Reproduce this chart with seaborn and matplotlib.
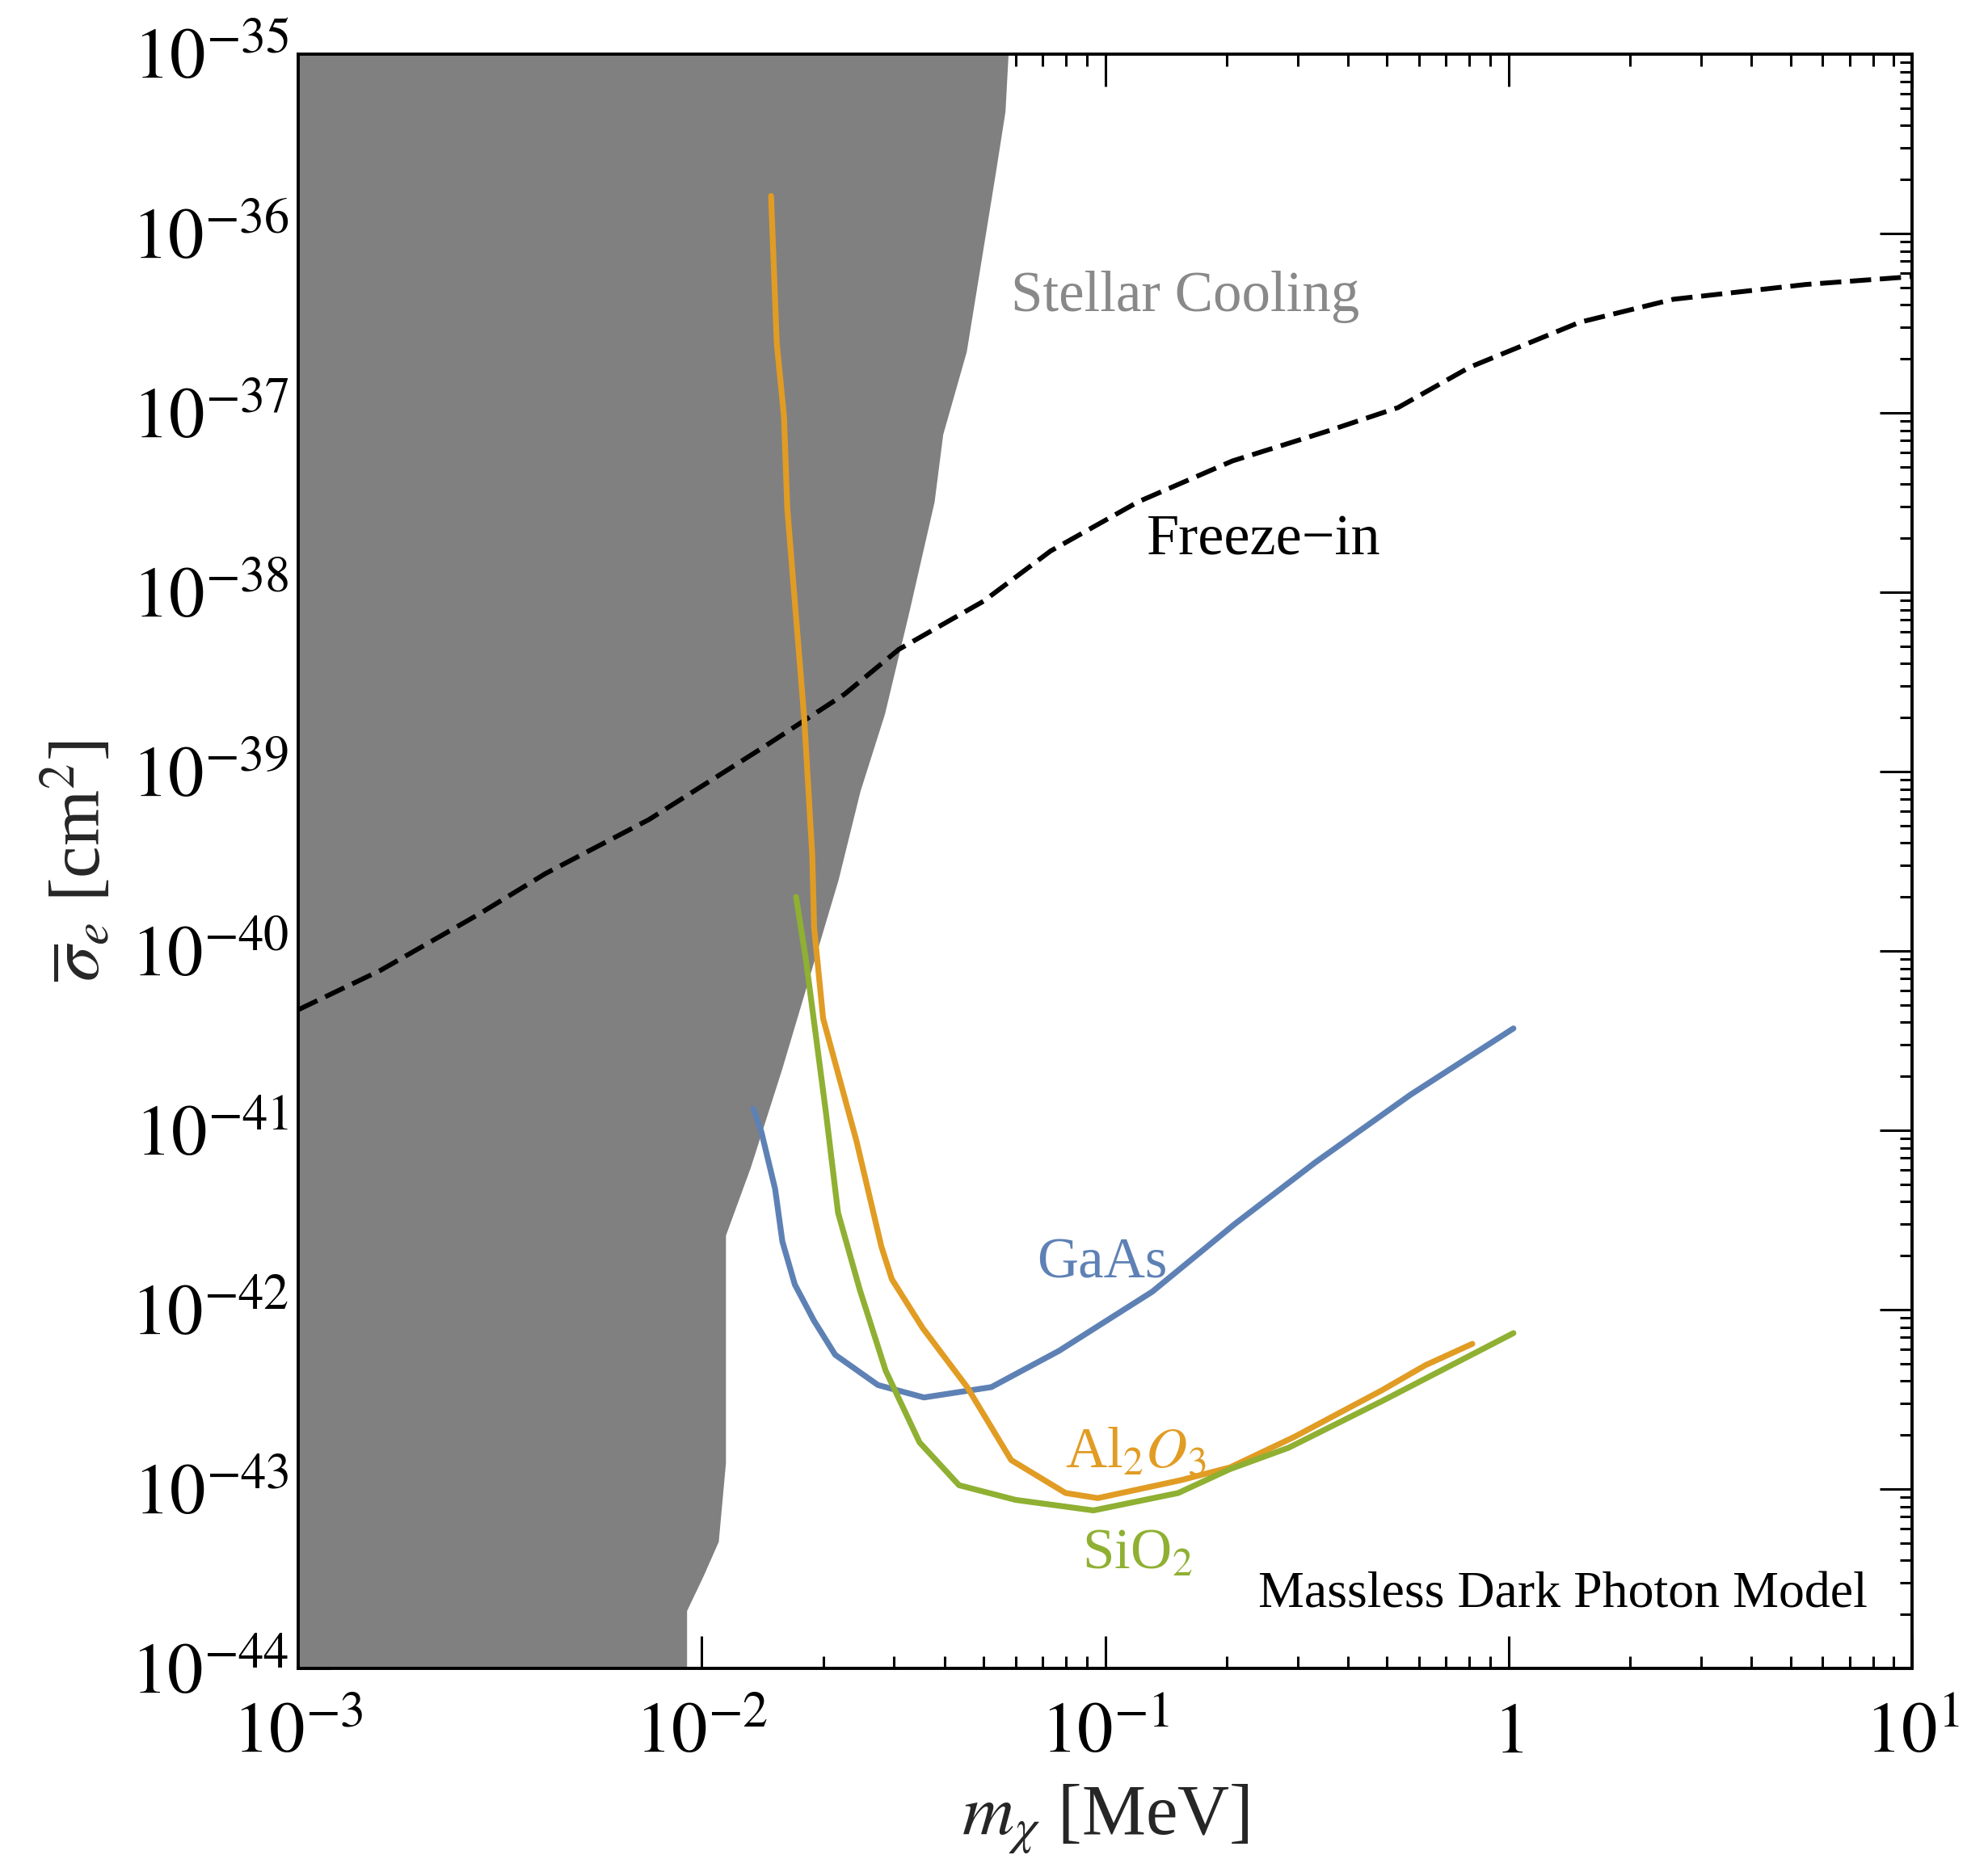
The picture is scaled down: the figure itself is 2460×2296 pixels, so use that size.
import numpy as np
import pandas as pd
import matplotlib
matplotlib.use("Agg")
import matplotlib.pyplot as plt
import matplotlib.ticker as mticker
import seaborn as sns

# --- data (MeV, cm^2) ---
cool_m = [0.0575, 0.0565, 0.0535, 0.0453, 0.0396, 0.0377, 0.0327, 0.0284, 0.0247,
          0.0218, 0.0158, 0.0132, 0.01146, 0.01146, 0.0110, 0.0101, 0.00918, 0.00918]
cool_sigma = [1e-35, 4.8e-36, 2.2e-36, 2.2e-37, 7.6e-38, 3.2e-38, 7.9e-39, 2.1e-39, 7.8e-40,
              2.5e-40, 2.2e-41, 6.2e-42, 2.6e-42, 1.4e-43, 5.1e-44, 3.3e-44, 2.1e-44, 1e-44]

freeze_m = [0.001, 0.0016, 0.0028, 0.0041, 0.0074, 0.0141, 0.0226, 0.0308, 0.0499, 0.0733,
            0.121, 0.207, 0.355, 0.532, 0.802, 1.5, 2.56, 5.46, 10]
freeze_sigma = [4.7e-41, 7.8e-41, 1.6e-40, 2.7e-40, 5.4e-40, 1.35e-39, 2.7e-39, 4.8e-39, 8.9e-39,
                1.7e-38, 3.2e-38, 5.4e-38, 7.9e-38, 1.07e-37, 1.8e-37, 3.2e-37, 4.3e-37, 5.2e-37,
                5.75e-37]

gaas_m = [0.01343, 0.01406, 0.01521, 0.01585, 0.01702, 0.01897, 0.02143, 0.02735, 0.03556,
          0.05224, 0.07691, 0.1309, 0.2094, 0.3311, 0.5715, 1.028]
gaas_sigma = [1.32e-41, 9.8e-42, 4.7e-42, 2.4e-42, 1.38e-42, 8.7e-43, 5.6e-43, 3.8e-43,
              3.24e-43, 3.7e-43, 5.9e-43, 1.26e-42, 3.0e-42, 6.6e-42, 1.58e-41, 3.7e-41]

al2o3_m = [0.01486, 0.01535, 0.0160, 0.0163, 0.01795, 0.0188, 0.0190, 0.0200, 0.0242, 0.0279,
           0.0296, 0.0353, 0.0455, 0.0585, 0.0798, 0.0959, 0.154, 0.204, 0.294, 0.485, 0.622,
           0.813]
al2o3_sigma = [1.62e-36, 2.45e-37, 9.5e-38, 2.95e-38, 2.0e-39, 3.4e-40, 1.35e-40, 4.2e-41,
               8.7e-42, 2.24e-42, 1.48e-42, 7.9e-43, 3.7e-43, 1.45e-43, 9.5e-44, 8.9e-44,
               1.12e-43, 1.32e-43, 1.95e-43, 3.55e-43, 4.9e-43, 6.45e-43]

sio2_m = [0.01714, 0.01811, 0.02032, 0.02178, 0.02466, 0.02858, 0.03467, 0.04345, 0.05998,
          0.09354, 0.1517, 0.2037, 0.2851, 0.4853, 1.028]
sio2_sigma = [2.0e-40, 9.1e-41, 1.26e-41, 3.47e-42, 1.29e-42, 4.57e-43, 1.82e-43, 1.05e-43,
              8.7e-44, 7.6e-44, 9.5e-44, 1.29e-43, 1.70e-43, 3.09e-43, 7.4e-43]

x_ticks = [1e-3, 1e-2, 1e-1, 1, 10]
x_tick_labels = [r"$10^{-3}$", r"$10^{-2}$", r"$10^{-1}$", r"$1$", r"$10^{1}$"]
y_ticks = [10.0 ** e for e in range(-44, -34)]
y_tick_labels = [r"$10^{%d}$" % e for e in range(-44, -34)]

materials = ["GaAs", "Al2O3", "SiO2"]
colors = {"GaAs": "#5E81B5", "Al2O3": "#E19C24", "SiO2": "#8FB032"}

# --- style ---
sns.set_style("ticks")
plt.rcParams["font.family"] = ["Liberation Serif", "DejaVu Serif"]
plt.rcParams["mathtext.fontset"] = "stix"

fig = plt.figure(figsize=(24.6, 22.96), dpi=100)
ax = fig.add_axes([0.15, 0.1006, 0.8118, 0.8702])

# stellar cooling region
ax.fill_betweenx(cool_sigma, 1e-3, cool_m, color="#808080", lw=0, zorder=1)

# freeze-in line
sns.lineplot(x=freeze_m, y=freeze_sigma, ax=ax, color="black", lw=4.3,
             estimator=None, sort=False, zorder=3)
ax.lines[-1].set_dashes((4.4, 1.8))

# material reaches
curves = pd.concat([
    pd.DataFrame({"m": gaas_m, "sigma": gaas_sigma, "material": "GaAs"}),
    pd.DataFrame({"m": al2o3_m, "sigma": al2o3_sigma, "material": "Al2O3"}),
    pd.DataFrame({"m": sio2_m, "sigma": sio2_sigma, "material": "SiO2"}),
])
sns.lineplot(data=curves, x="m", y="sigma", hue="material", hue_order=materials,
             palette=colors, estimator=None, sort=False, lw=5.2, legend=False, ax=ax,
             zorder=4)

ax.set_xscale("log")
ax.set_yscale("log")
ax.set_xlim(1e-3, 10)
ax.set_ylim(1e-44, 1e-35)

ax.set_xticks(x_ticks)
ax.set_xticklabels(x_tick_labels)
ax.set_yticks(y_ticks)
ax.set_yticklabels(y_tick_labels)
ax.xaxis.set_minor_locator(mticker.LogLocator(base=10, subs=np.arange(2, 10), numticks=100))
ax.yaxis.set_minor_locator(mticker.LogLocator(base=10, subs=np.arange(2, 10), numticks=100))
ax.xaxis.set_minor_formatter(mticker.NullFormatter())
ax.yaxis.set_minor_formatter(mticker.NullFormatter())

ax.tick_params(which="both", direction="in", top=True, right=True, color="black",
               labelsize=64, labelcolor="black")
ax.tick_params(which="major", length=29, width=2.2)
ax.tick_params(which="minor", length=11, width=2.2)
ax.tick_params(axis="x", which="major", pad=30)
ax.tick_params(axis="y", which="major", pad=8)
for sp in ax.spines.values():
    sp.set_linewidth(2.8)
    sp.set_color("black")
    sp.set_visible(True)

ax.set_xlabel(r"$m_\chi$ [MeV]", fontsize=64, labelpad=14)
ax.set_ylabel(r"$\overline{\sigma}_e$ [cm$^2$]", fontsize=64, labelpad=14)

# labels
ax.text(0.0583, 3.7e-37, "Stellar Cooling", color="#898989", fontsize=51, va="baseline")
ax.text(0.127, 1.62e-38, "Freeze\u2212in", color="black", fontsize=52, va="baseline")
ax.text(0.0679, 1.51e-42, "GaAs", color=colors["GaAs"], fontsize=51, va="baseline")
ax.text(0.0796, 1.32e-43, r"Al$_2O_3$", color=colors["Al2O3"], fontsize=51, va="baseline")
ax.text(0.0875, 3.6e-44, r"SiO$_2$", color=colors["SiO2"], fontsize=51, va="baseline")
ax.text(7.76, 2.2e-44, "Massless Dark Photon Model", color="black", fontsize=46,
        ha="right", va="baseline")

fig.savefig("out.png", dpi=100)
